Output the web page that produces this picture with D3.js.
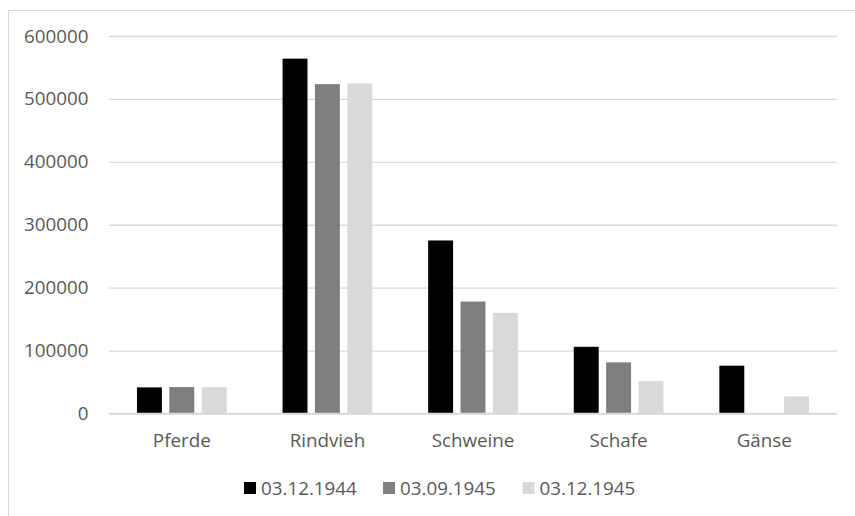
<!DOCTYPE html>
<html><head><meta charset="utf-8">
<script src="https://cdn.jsdelivr.net/npm/d3@7"></script>
<style>body{margin:0;background:#fff}svg{display:block}</style>
</head><body>
<svg id="c" width="855" height="516"></svg>
<script>
const categories = ["Pferde","Rindvieh","Schweine","Schafe","Gänse"];
const seriesNames = ["03.12.1944","03.09.1945","03.12.1945"];
const s1944_12 = [41500, 564000, 275000, 106000, 76000];
const s1945_09 = [42000, 523500, 178000, 81300, 0];
const s1945_12 = [41800, 524500, 160000, 51600, 27300];
const seriesValues = [s1944_12, s1945_09, s1945_12];
const yTicks = [0,100000,200000,300000,400000,500000,600000];
const colors = ["#000000","#7f7f7f","#d9d9d9"];

const svg = d3.select("#c");
const font = "'Open Sans', sans-serif";
const fs = "18.8px";
const textColor = "#595959";

// chart border (cropped)
svg.append("rect").attr("x",8.5).attr("y",10.5).attr("width",900).attr("height",600)
  .attr("fill","none").attr("stroke","#d9d9d9").attr("stroke-width",1);

const x0 = d3.scaleBand().domain(categories).range([109,837]).paddingInner(0.384).paddingOuter(0.192);
const x1 = d3.scaleBand().domain(d3.range(seriesNames.length)).range([0,x0.bandwidth()]).paddingInner(0.23).paddingOuter(0);
const y = d3.scaleLinear().domain([0,600000]).range([413.5,36]);

// gridlines
const yAxis = d3.axisLeft(y).tickValues(yTicks).tickSize(-(837-109)).tickPadding(20).tickFormat(d3.format("d"));
const gy = svg.append("g").attr("transform","translate(109,0)").call(yAxis);
gy.select(".domain").remove();
gy.selectAll(".tick line").attr("stroke","#d9d9d9").attr("stroke-width",1.3);
gy.selectAll(".tick text").attr("fill",textColor).style("font-family",font).style("font-size",fs).attr("x",-20.5);

// bars
const groups = svg.append("g").selectAll("g").data(categories).join("g")
  .attr("transform",d=>`translate(${x0(d)},0)`);
groups.selectAll("rect").data((d,i)=>seriesValues.map((s,k)=>({k,v:s[i]}))).join("rect")
  .attr("x",d=>x1(d.k)).attr("width",x1.bandwidth())
  .attr("y",d=>y(d.v)).attr("height",d=>y(0)-y(d.v))
  .attr("fill",d=>colors[d.k]);

// x axis labels
const xAxis = d3.axisBottom(x0).tickSize(0).tickPadding(20);
const gx = svg.append("g").attr("transform","translate(0,414)").call(xAxis);
gx.select(".domain").remove();
gx.selectAll(".tick text").attr("fill",textColor).style("font-family",font).style("font-size",fs)
  .attr("y",27).attr("dy","0.32em");

svg.append("line").attr("x1",109).attr("x2",837).attr("y1",y(0)).attr("y2",y(0)).attr("stroke","#d9d9d9").attr("stroke-width",1.3);

// legend
const legendX = [244,383,522.5];
const lg = svg.append("g").selectAll("g").data(seriesNames).join("g")
  .attr("transform",(d,i)=>`translate(${legendX[i]},488)`);
lg.append("rect").attr("x",0).attr("y",-6).attr("width",12).attr("height",12).attr("fill",(d,i)=>colors[i]);
lg.append("text").attr("x",17).attr("y",0).attr("dy","0.35em").text(d=>d)
  .attr("fill",textColor).style("font-family",font).style("font-size",fs);
</script>
</body></html>
